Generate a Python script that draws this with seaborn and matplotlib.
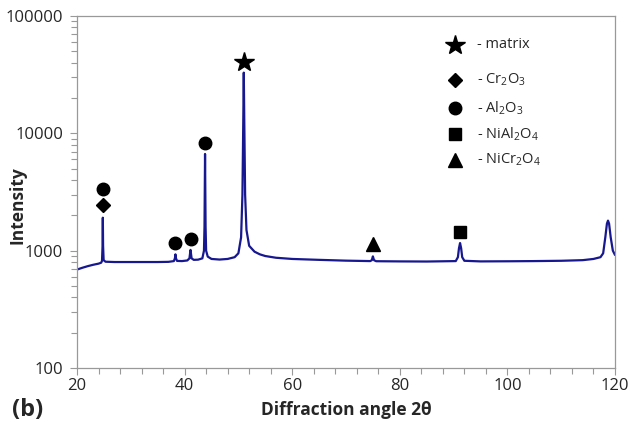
import matplotlib
matplotlib.use("Agg")
import matplotlib.pyplot as plt
import matplotlib.ticker as mticker
import seaborn as sns
import pandas as pd

# ---- data ----
angle = [20, 21, 22, 23, 24, 24.5, 24.65, 24.75, 24.8, 24.85, 24.95, 25.3, 27, 30, 35, 37,
         38.0, 38.2, 38.3, 38.4, 38.6, 39.5, 40.5, 40.9, 41.1, 41.3, 41.7, 42.5, 43.3,
         43.6, 43.7, 43.8, 43.9, 44.0, 44.3, 45, 46.5, 48, 49.3, 50.0, 50.5, 50.75, 50.9,
         51.0, 51.1, 51.25, 51.5, 52, 53, 54, 55, 57, 60, 65, 70, 74.5, 74.8, 75.0, 75.2, 75.6,
         80, 85, 90.4, 90.8, 91.0, 91.2, 91.4, 91.6, 92.0, 95, 100, 105, 110, 114, 116,
         117.3, 117.8, 118.2, 118.5, 118.7, 118.9, 119.2, 119.6, 120]
intensity = [690, 715, 738, 758, 775, 790, 820, 1100, 1910, 1100, 830, 805, 800, 800, 800, 803,
             815, 860, 930, 860, 818, 815, 825, 860, 1015, 860, 835, 838, 860,
             1000, 1600, 6670, 1600, 1000, 890, 850, 840, 850, 880, 950, 1300, 3000, 12000,
             32900, 12000, 3000, 1500, 1100, 980, 930, 900, 870, 850, 835, 822, 815, 830, 894, 830, 813,
             810, 808, 815, 880, 1050, 1161, 1050, 880, 820, 810, 812, 815, 820, 830, 850,
             880, 950, 1300, 1700, 1803, 1700, 1300, 1000, 919]

# phase markers above peaks
star_x, star_y = [51.0], [40600]
diamond_x, diamond_y = [24.8], [2466]
circle_x, circle_y = [24.8, 38.3, 41.1, 43.8], [3380, 1170, 1266, 8340]
square_x, square_y = [91.2], [1440]
triangle_x, triangle_y = [75.0], [1147]

legend_labels = ["- matrix", "- Cr$_2$O$_3$", "- Al$_2$O$_3$", "- NiAl$_2$O$_4$", "- NiCr$_2$O$_4$"]
legend_markers = ["*", "D", "o", "s", "^"]

x_ticks = [20, 40, 60, 80, 100, 120]
y_ticks = [100, 1000, 10000, 100000]

# ---- plot ----
sns.set_style("white")
plt.rcParams["font.family"] = ["Open Sans", "DejaVu Sans"]
plt.rcParams["mathtext.fontset"] = "custom"
plt.rcParams["mathtext.rm"] = "Open Sans"

fig = plt.figure(figsize=(6.31, 4.28), dpi=100)
ax = fig.add_axes([77 / 631, 1 - 368 / 428, 538 / 631, 352 / 428])

df = pd.DataFrame({"angle": angle, "intensity": intensity})
sns.lineplot(data=df, x="angle", y="intensity", ax=ax, color="#17178f",
             linewidth=1.6, estimator=None, sort=False)

ms = {"*": 15, "D": 7, "o": 9, "s": 8, "^": 10}
ax.plot(star_x, star_y, "*", color="black", markersize=ms["*"], linestyle="none")
ax.plot(diamond_x, diamond_y, "D", color="black", markersize=ms["D"], linestyle="none")
ax.plot(circle_x, circle_y, "o", color="black", markersize=ms["o"], linestyle="none")
ax.plot(square_x, square_y, "s", color="black", markersize=ms["s"], linestyle="none")
ax.plot(triangle_x, triangle_y, "^", color="black", markersize=ms["^"], linestyle="none")

ax.set_yscale("log")
ax.set_xlim(20, 120)
ax.set_ylim(100, 100000)
ax.set_xticks(x_ticks)
ax.xaxis.set_minor_locator(mticker.MultipleLocator(4))
ax.set_yticks(y_ticks)
ax.yaxis.set_major_formatter(mticker.FuncFormatter(lambda v, p: f"{int(round(v))}"))
ax.yaxis.set_minor_locator(mticker.LogLocator(base=10, subs=range(2, 10)))
ax.yaxis.set_minor_formatter(mticker.NullFormatter())
ax.tick_params(axis="both", which="major", direction="out", length=5, width=0.8,
               color="#999999", labelsize=12)
ax.tick_params(axis="y", which="major", pad=5)
ax.tick_params(axis="x", which="major", pad=2)
ax.tick_params(axis="both", which="minor", direction="out", length=4, width=0.8,
               color="#999999")
ax.tick_params(axis="y", which="both", left=True, right=False)
ax.tick_params(axis="x", which="both", bottom=True, top=False)
for s in ax.spines.values():
    s.set_color("#999999")
    s.set_linewidth(0.9)

ax.set_xlabel("Diffraction angle 2θ", fontsize=12.5, fontweight="bold")
ax.xaxis.set_label_coords(0.5, -(410 - 368) / 352)
ax.xaxis.label.set_va("center")
ax.set_ylabel("Intensity", fontsize=12.5, fontweight="bold")
ax.yaxis.set_label_coords((18 - 77) / 538, 1 - (205 - 16) / 352)
ax.yaxis.label.set_va("center")

# legend drawn as markers + text in axes fraction
leg_y = [0.918, 0.818, 0.739, 0.665, 0.591]
for mk, lab, yy in zip(legend_markers, legend_labels, leg_y):
    ax.plot([0.7026], [yy], mk, color="black", markersize=ms[mk],
            transform=ax.transAxes, clip_on=False)
    ax.text(0.743, yy, lab, transform=ax.transAxes, fontsize=10.5,
            va="center", ha="left")

fig.text(12 / 631, 1 - 410 / 428, "(b)", fontsize=17, fontweight="bold",
         va="center", ha="left")

fig.savefig("out.png", dpi=100)
